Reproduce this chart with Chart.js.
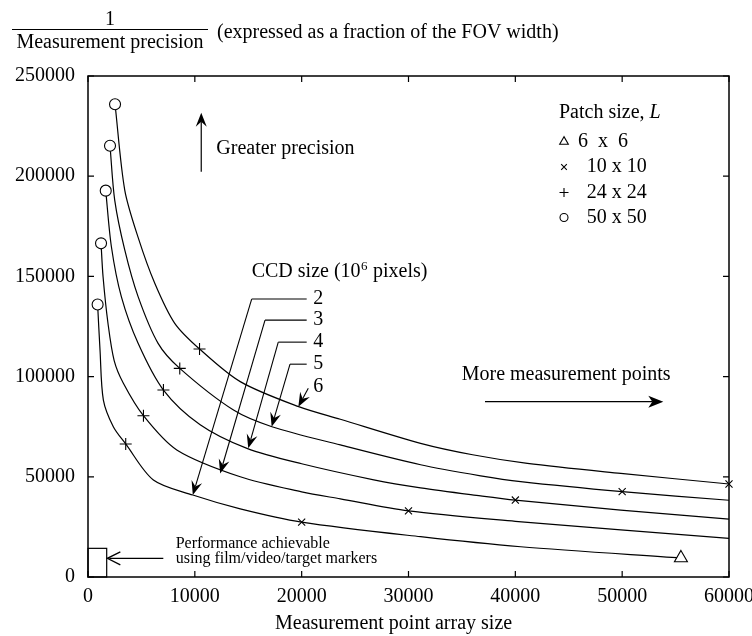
<!DOCTYPE html>
<html>
<head>
<meta charset="utf-8">
<script src="https://cdn.jsdelivr.net/npm/chart.js@4/dist/chart.umd.min.js"></script>
<style>
  body { margin: 0; background: #fff; }
  canvas { display: block; }
</style>
</head>
<body>
<canvas id="precisionChart" width="752" height="636"></canvas>
<script>
// 軸の目盛り
const xTicks = [0, 10000, 20000, 30000, 40000, 50000, 60000];
const xTickLabels = ['0', '10000', '20000', '30000', '40000', '50000', '60000'];
const yTicks = [0, 50000, 100000, 150000, 200000, 250000];
const yTickLabels = ['0', '50000', '100000', '150000', '200000', '250000'];

// CCDサイズ別の曲線 [測定点数, 1/精度]
const ccdSizes = ['2', '3', '4', '5', '6'];
const ccd2 = [[900, 136000], [1125, 113300], [1440, 88300], [2370, 75000], [3530, 66400], [6120, 48400],
              [9810, 40900], [14250, 34000], [20000, 27400], [31130, 20100], [40500, 15100], [55500, 9500]];
const ccd3 = [[1220, 166500], [1410, 149800], [1870, 126600], [2450, 108000], [3310, 96700], [5190, 80500],
              [8310, 63400], [14250, 50000], [20000, 42500], [23620, 39000], [30000, 33000], [40000, 27800],
              [49870, 23500], [60000, 19300]];
const ccd4 = [[1660, 192800], [2190, 164800], [3120, 139900], [4690, 116600], [7060, 93300], [10500, 76000],
              [14880, 64200], [20000, 56500], [26750, 48500], [31130, 44500], [36750, 40500], [40000, 38400],
              [49870, 33400], [60000, 28900]];
const ccd5 = [[2060, 215200], [2500, 188100], [3440, 163200], [4690, 139900], [6560, 116600], [8590, 104100],
              [13620, 83300], [17220, 75000], [23620, 65900], [31130, 56000], [36750, 50500], [40500, 47600],
              [50000, 42600], [60000, 38300]];
const ccd6 = [[2530, 235900], [3440, 193100], [4690, 169500], [6250, 146600], [8120, 126600], [10440, 113800],
              [14250, 97500], [19720, 85000], [23620, 78700], [31130, 66700], [36000, 61000], [41130, 56700],
              [49870, 51700], [60000, 46400]];

// パッチサイズ別のマーカー
const patchLabels = ['6  x  6', '10 x 10', '24 x 24', '50 x 50'];
const patch6 = [[55500, 9500]];
const patch10 = [[20000, 27400], [30000, 33000], [40000, 38400], [50000, 42600], [60000, 46400]];
const patch24 = [[3530, 66400], [5190, 80500], [7060, 93300], [8590, 104100], [10440, 113800]];
const patch50 = [[900, 136000], [1220, 166500], [1660, 192800], [2060, 215200], [2530, 235900]];

const SERIF = '"Liberation Serif", "Times New Roman", serif';
Chart.defaults.font.family = SERIF;
Chart.defaults.font.size = 20;
Chart.defaults.color = '#000';

const toPoints = arr => arr.map(([x, y]) => ({ x, y }));

function curveDataset(label, data) {
    return {
        label: label,
        data: toPoints(data),
        showLine: true,
        borderColor: '#000',
        borderWidth: 1.2,
        pointRadius: 0,
        tension: 0.3,
        fill: false,
        order: 1,
    };
}

function markerDataset(label, data, style, radius) {
    return {
        label: label,
        data: toPoints(data),
        showLine: false,
        pointStyle: style,
        pointRadius: radius,
        pointBorderColor: '#000',
        pointBackgroundColor: '#fff',
        pointBorderWidth: 1.1,
        order: 0,
        clip: false,
    };
}

// 矢印（notchあり = 塗りつぶし, 0 = V字）
function arrow(ctx, x1, y1, x2, y2, len, half, notch) {
    const a = Math.atan2(y2 - y1, x2 - x1);
    const ux = Math.cos(a), uy = Math.sin(a);
    ctx.beginPath();
    ctx.moveTo(x1, y1);
    ctx.lineTo(x2 - ux * (notch || 2), y2 - uy * (notch || 2));
    ctx.stroke();
    const bx = x2 - ux * len, by = y2 - uy * len;
    if (notch) {
        ctx.beginPath();
        ctx.moveTo(x2, y2);
        ctx.lineTo(bx - uy * half, by + ux * half);
        ctx.lineTo(x2 - ux * notch, y2 - uy * notch);
        ctx.lineTo(bx + uy * half, by - ux * half);
        ctx.closePath();
        ctx.fill();
    } else {
        ctx.beginPath();
        ctx.moveTo(bx - uy * half, by + ux * half);
        ctx.lineTo(x2, y2);
        ctx.lineTo(bx + uy * half, by - ux * half);
        ctx.stroke();
    }
}

function marker(ctx, style, x, y, r) {
    ctx.beginPath();
    if (style === 'circle') {
        ctx.arc(x, y, r, 0, Math.PI * 2);
    } else if (style === 'triangle') {
        ctx.moveTo(x, y - r);
        ctx.lineTo(x - r * 0.866, y + r * 0.5);
        ctx.lineTo(x + r * 0.866, y + r * 0.5);
        ctx.closePath();
    } else if (style === 'cross') {
        ctx.moveTo(x - r, y); ctx.lineTo(x + r, y);
        ctx.moveTo(x, y - r); ctx.lineTo(x, y + r);
    } else if (style === 'crossRot') {
        const d = r * 0.707;
        ctx.moveTo(x - d, y - d); ctx.lineTo(x + d, y + d);
        ctx.moveTo(x - d, y + d); ctx.lineTo(x + d, y - d);
    }
    ctx.stroke();
}

function text(ctx, str, x, y, size, align) {
    ctx.font = (size || 20) + 'px ' + SERIF;
    ctx.textAlign = align || 'left';
    ctx.textBaseline = 'middle';
    ctx.fillText(str, x, y);
}

const figurePlugin = {
    id: 'figureAnnotations',
    afterDraw(chart) {
        const { ctx, chartArea: area } = chart;
        const px = v => chart.scales.x.getPixelForValue(v);
        const py = v => chart.scales.y.getPixelForValue(v);
        ctx.save();
        ctx.strokeStyle = '#000';
        ctx.fillStyle = '#000';

        // 枠と内向きの目盛り
        ctx.lineWidth = 1.5;
        ctx.strokeRect(area.left, area.top, area.right - area.left, area.bottom - area.top);
        ctx.lineWidth = 1.2;
        ctx.beginPath();
        xTicks.forEach(v => {
            ctx.moveTo(px(v), area.bottom); ctx.lineTo(px(v), area.bottom - 6);
            ctx.moveTo(px(v), area.top); ctx.lineTo(px(v), area.top + 6);
        });
        yTicks.forEach(v => {
            ctx.moveTo(area.left, py(v)); ctx.lineTo(area.left + 6, py(v));
            ctx.moveTo(area.right, py(v)); ctx.lineTo(area.right - 6, py(v));
        });
        ctx.stroke();

        // 縦軸タイトル（分数）
        text(ctx, '1', 110, 20, 20, 'center');
        ctx.beginPath();
        ctx.moveTo(12, 29.5); ctx.lineTo(208, 29.5);
        ctx.stroke();
        text(ctx, 'Measurement precision', 110, 43, 20, 'center');
        text(ctx, '(expressed as a fraction of the FOV width)', 217, 33, 20);

        // 横軸タイトル
        text(ctx, 'Measurement point array size', 275, 624, 20);

        // Greater precision
        arrow(ctx, px(10600), py(202200), px(10600), py(231700), 14, 5.5, 9);
        text(ctx, 'Greater precision', px(12010), py(213900), 20);

        // CCD size
        const cx = px(15320), cy = py(152100);
        text(ctx, 'CCD size (10', cx, cy, 20);
        let w = ctx.measureText('CCD size (10').width;
        text(ctx, '6', cx + w + 0.5, cy - 6, 13);
        const w6 = ctx.measureText('6').width;
        text(ctx, ' pixels)', cx + w + w6 + 1, cy, 20);

        const leaders = [
            { y: 138700, bend: 15320, tip: [9810, 40900] },
            { y: 128200, bend: 16570, tip: [12370, 51700] },
            { y: 117200, bend: 17810, tip: [15000, 64200] },
            { y: 106200, bend: 18910, tip: [17190, 75000] },
        ];
        ctx.lineWidth = 1.1;
        leaders.forEach((l, i) => {
            ctx.beginPath();
            ctx.moveTo(px(20470), py(l.y));
            ctx.lineTo(px(l.bend), py(l.y));
            ctx.stroke();
            arrow(ctx, px(l.bend), py(l.y), px(l.tip[0]), py(l.tip[1]), 14, 5.5, 9);
            text(ctx, ccdSizes[i], px(21090), py(l.y), 20);
        });
        arrow(ctx, px(20620), py(94200), px(19690), py(85000), 14, 5.5, 9);
        text(ctx, ccdSizes[4], px(21090), py(95000), 20);

        // More measurement points
        text(ctx, 'More measurement points', px(34980), py(100800), 20);
        arrow(ctx, px(37160), py(87500), px(53850), py(87500), 15, 6, 11);

        // フィルム等で達成可能な範囲
        ctx.lineWidth = 1.2;
        ctx.strokeRect(px(0), py(14300), px(1750) - px(0), py(0) - py(14300));
        ctx.lineWidth = 1.3;
        arrow(ctx, px(7050), py(9330), px(1810), py(9330), 13, 6.5, 0);
        text(ctx, 'Performance achievable', px(8210), py(16800), 16);
        text(ctx, 'using film/video/target markers', px(8210), py(9000), 16);

        // 凡例
        text(ctx, 'Patch size, ', 559, 113, 20);
        w = ctx.measureText('Patch size, ').width;
        ctx.font = 'italic 20px ' + SERIF;
        ctx.fillText('L', 559 + w, 113);
        ctx.lineWidth = 1.1;
        const legendRows = [
            { style: 'triangle', r: 5, y: 141.7, tx: 578 },
            { style: 'crossRot', r: 4, y: 167, tx: 586.7 },
            { style: 'cross', r: 4.5, y: 192.5, tx: 586.7 },
            { style: 'circle', r: 4, y: 217.5, tx: 586.7 },
        ];
        legendRows.forEach((row, i) => {
            marker(ctx, row.style, 564, row.y, row.r);
            text(ctx, patchLabels[i], row.tx, row.y, 20);
        });

        ctx.restore();
    }
};

new Chart(document.getElementById('precisionChart').getContext('2d'), {
    type: 'scatter',
    data: {
        datasets: [
            markerDataset(patchLabels[0], patch6, 'triangle', 7.5),
            markerDataset(patchLabels[1], patch10, 'crossRot', 5),
            markerDataset(patchLabels[2], patch24, 'cross', 6),
            markerDataset(patchLabels[3], patch50, 'circle', 5.5),
            curveDataset(ccdSizes[0], ccd2),
            curveDataset(ccdSizes[1], ccd3),
            curveDataset(ccdSizes[2], ccd4),
            curveDataset(ccdSizes[3], ccd5),
            curveDataset(ccdSizes[4], ccd6),
        ]
    },
    options: {
        responsive: false,
        animation: false,
        layout: { padding: { top: 76, right: 23, left: 0, bottom: 0 } },
        plugins: {
            legend: { display: false },
            tooltip: { enabled: false },
        },
        scales: {
            x: {
                type: 'linear',
                min: 0,
                max: 60000,
                afterFit(scale) { scale.height = 59; scale.paddingLeft = 0; scale.paddingRight = 0; },
                grid: { display: false, drawTicks: false },
                border: { display: false },
                ticks: {
                    stepSize: 10000,
                    padding: 8,
                    maxRotation: 0,
                    autoSkip: false,
                    callback: v => xTickLabels[xTicks.indexOf(v)] ?? '',
                },
            },
            y: {
                type: 'linear',
                min: 0,
                max: 250000,
                afterFit(scale) { scale.width = 88; },
                grid: { display: false, drawTicks: false },
                border: { display: false },
                ticks: {
                    stepSize: 50000,
                    padding: 13,
                    callback: v => yTickLabels[yTicks.indexOf(v)] ?? '',
                },
            },
        },
    },
    plugins: [figurePlugin],
});
</script>
</body>
</html>
